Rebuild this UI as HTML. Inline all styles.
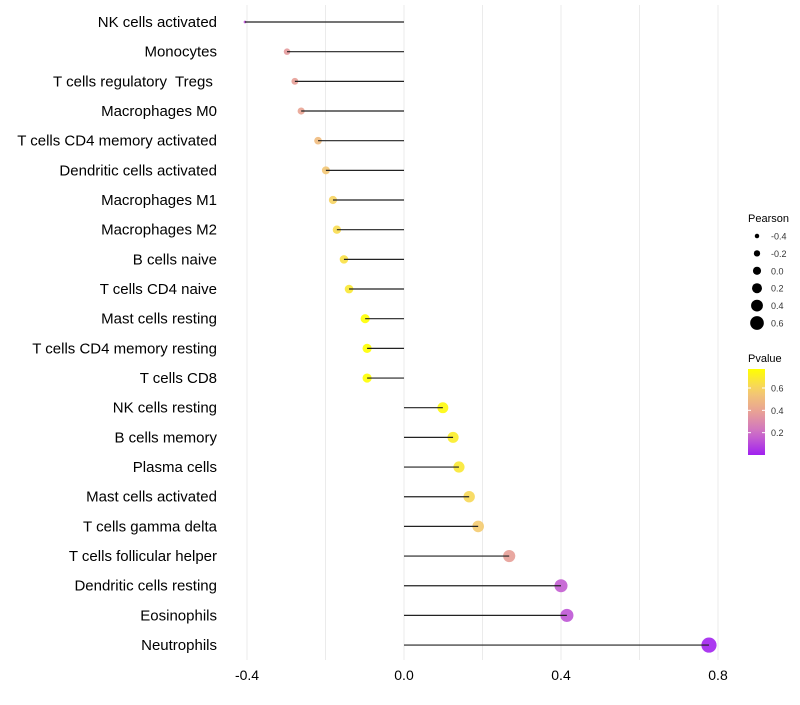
<!DOCTYPE html>
<html><head><meta charset="utf-8"><style>
body{margin:0;background:#fff;font-family:"Liberation Sans",sans-serif}
text{white-space:pre}
</style></head><body>
<svg id="c" width="800" height="700" xmlns="http://www.w3.org/2000/svg"></svg>
<script>
const categories=["NK cells activated","Monocytes","T cells regulatory  Tregs ","Macrophages M0","T cells CD4 memory activated","Dendritic cells activated","Macrophages M1","Macrophages M2","B cells naive","T cells CD4 naive","Mast cells resting","T cells CD4 memory resting","T cells CD8","NK cells resting","B cells memory","Plasma cells","Mast cells activated","T cells gamma delta","T cells follicular helper","Dendritic cells resting","Eosinophils","Neutrophils"];
const pearson=[-0.405,-0.298,-0.278,-0.262,-0.219,-0.199,-0.181,-0.171,-0.153,-0.140,-0.099,-0.094,-0.094,0.099,0.125,0.140,0.166,0.189,0.268,0.400,0.415,0.777];
const pvalue=[0.12,0.36,0.38,0.40,0.50,0.55,0.60,0.63,0.65,0.68,0.77,0.77,0.77,0.75,0.70,0.68,0.62,0.57,0.38,0.15,0.13,0.01];
const xTicks=[-0.4,0.0,0.4,0.8];
const xTickLabels=["-0.4","0.0","0.4","0.8"];
const sizeLegend=[-0.4,-0.2,0.0,0.2,0.4,0.6];
const pTicks=[0.2,0.4,0.6];
const NS="http://www.w3.org/2000/svg",svg=document.getElementById('c');
function el(t,a,p){const e=document.createElementNS(NS,t);for(const k in a)e.setAttribute(k,a[k]);(p||svg).appendChild(e);return e;}
const x=v=>404+v*392.5;
const y=i=>22+i*29.67;
const pMin=0,pMax=0.77;
function lerp(a,b,t){return a.map((v,i)=>Math.round(v+(b[i]-v)*t));}
function col(p){const t=Math.max(0,Math.min(1,(p-pMin)/(pMax-pMin)));
 const stops=[[160,32,240],[205,110,200],[232,160,150],[245,205,110],[255,255,0]];
 const s=t*4,i=Math.min(3,Math.floor(s));const c=lerp(stops[i],stops[i+1],s-i);return `rgb(${c[0]},${c[1]},${c[2]})`;}
const r=v=>2+(v+0.45)*4.6;
const rp=v=>1.4+6.2*Math.sqrt(Math.max(0,(v+0.405)/1.18));
for(let v=-0.4;v<=0.81;v+=0.2){const g=el('line',{x1:x(v),x2:x(v),y1:5,y2:660,stroke:'#ebebeb','stroke-width':1});
}
xTicks.forEach((v,i)=>{const t=el('text',{x:x(v),y:680,'font-size':14,'text-anchor':'middle',fill:'#000'});t.textContent=xTickLabels[i];
});
categories.forEach((c,i)=>{
 const t=el('text',{x:217,y:y(i)+5,'font-size':15,'text-anchor':'end',fill:'#000'});t.textContent=c;
 
 const d=el('circle',{cx:x(pearson[i]),cy:y(i),r:rp(pearson[i]),fill:col(pvalue[i]),opacity:0.9});
 
 const l=el('line',{x1:x(0),x2:x(pearson[i]),y1:y(i),y2:y(i),stroke:'#222','stroke-width':1.2});
 
});
let tt=el('text',{x:748,y:222,'font-size':11,fill:'#000'});tt.textContent='Pearson';

sizeLegend.forEach((v,i)=>{const cy=236+i*17.4;
 const d=el('circle',{cx:757,cy:cy,r:r(v),fill:'#000'});
 const t=el('text',{x:771,y:cy+3.5,'font-size':9,fill:'#333'});t.textContent=v.toFixed(1);
 });
tt=el('text',{x:748,y:362,'font-size':11,fill:'#000'});tt.textContent='Pvalue';

const defs=el('defs',{});const gr=el('linearGradient',{id:'g',x1:0,y1:1,x2:0,y2:0},defs);
for(let k=0;k<=10;k++)el('stop',{offset:k/10,'stop-color':col(pMin+(pMax-pMin)*k/10)},gr);
const bar=el('rect',{x:748,y:369,width:17,height:86,fill:'url(#g)'});

const py=p=>455-(p-pMin)/(pMax-pMin)*86;
pTicks.forEach(p=>{el('line',{x1:748,x2:751,y1:py(p),y2:py(p),stroke:'#fff'});el('line',{x1:762,x2:765,y1:py(p),y2:py(p),stroke:'#fff'});
 const t=el('text',{x:771,y:py(p)+3.5,'font-size':9,fill:'#333'});t.textContent=p.toFixed(1);
 });
</script>
</body></html>
